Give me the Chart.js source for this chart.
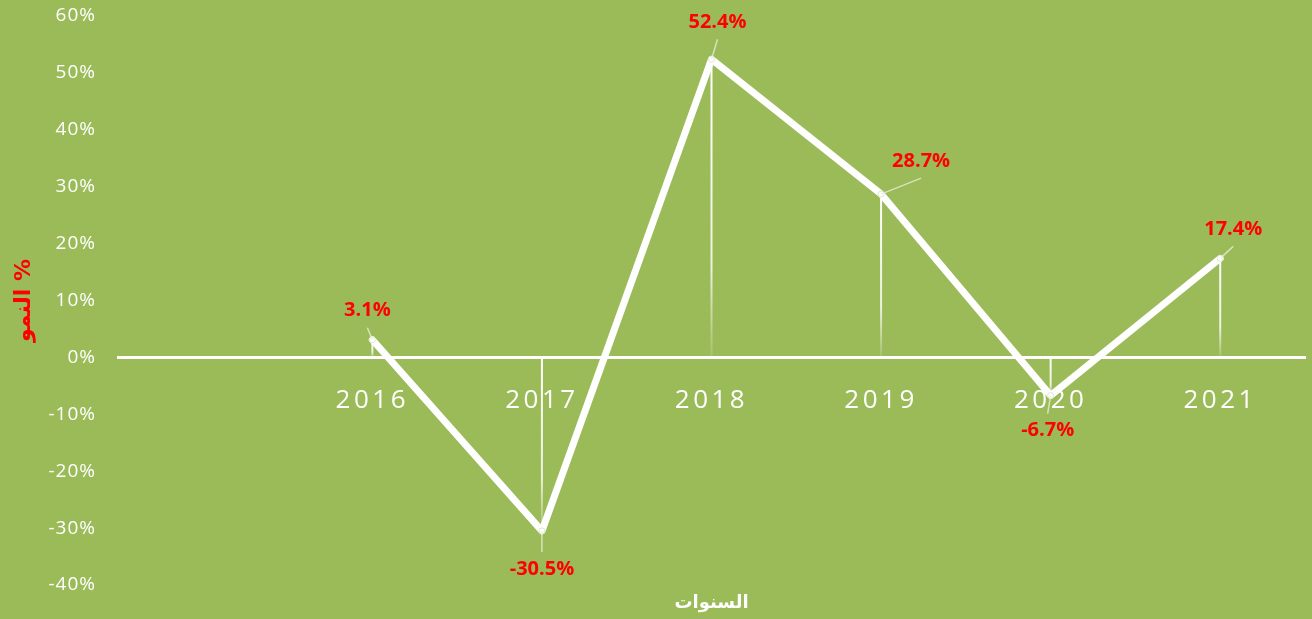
<!DOCTYPE html>
<html>
<head>
<meta charset="utf-8">
<script src="https://cdn.jsdelivr.net/npm/chart.js@4/dist/chart.umd.min.js"></script>
<style>
	html, body { margin: 0; padding: 0; background: #9bbb59; }
	#wrap { width: 1312px; height: 619px; }
</style>
</head>
<body>
<div id="wrap"><canvas id="growthChart" width="1312" height="619"></canvas></div>
<script>
// Data
const years = ['', '2016', '2017', '2018', '2019', '2020', '2021'];
const growth = [null, 3.1, -30.5, 52.4, 28.7, -6.7, 17.4];
const yTitle = '% النمو';
const xTitle = 'السنوات';

// Colors
const BG = '#9bbb59';
const RED = '#ff0000';
const WHITE = '#ffffff';

// Label placement relative to each point (px)
const labelOffsets = [null, [-5, -29], [0, 38], [6, -37], [40, -33], [-3, 35], [13, -29]];

function spacedText(scale, spacing) {
	if (scale._spaced) return;
	const orig = scale.drawLabels;
	scale.drawLabels = function (area) {
		const ctx = this.ctx;
		ctx.save();
		ctx.letterSpacing = spacing;
		orig.call(this, area);
		ctx.restore();
	};
	scale._spaced = true;
}

const background = {
	id: 'background',
	beforeDraw(chart) {
		const { ctx, width, height } = chart;
		ctx.save();
		ctx.fillStyle = BG;
		ctx.fillRect(0, 0, width, height);
		ctx.restore();
	},
	afterLayout(chart) {
		spacedText(chart.scales.x, '3.5px');
		spacedText(chart.scales.y, '1px');
	},
};

const dropLines = {
	id: 'dropLines',
	beforeDatasetsDraw(chart) {
		const { ctx, scales: { y } } = chart;
		const base = y.getPixelForValue(0);
		chart.getDatasetMeta(0).data.forEach((pt, i) => {
			if (growth[i] == null) return;
			const top = Math.min(pt.y, base);
			const bottom = Math.max(pt.y, base);
			const g = ctx.createLinearGradient(0, top, 0, bottom);
			g.addColorStop(0, 'rgba(255,255,255,1)');
			g.addColorStop(0.7, 'rgba(255,255,255,0.8)');
			g.addColorStop(1, 'rgba(255,255,255,0.1)');
			ctx.save();
			ctx.strokeStyle = g;
			ctx.lineWidth = 2;
			ctx.beginPath();
			ctx.moveTo(pt.x, top);
			ctx.lineTo(pt.x, bottom);
			ctx.stroke();
			ctx.restore();
		});
	},
};

const valueLabels = {
	id: 'valueLabels',
	afterDatasetsDraw(chart) {
		const { ctx } = chart;
		chart.getDatasetMeta(0).data.forEach((pt, i) => {
			if (growth[i] == null) return;
			const [dx, dy] = labelOffsets[i];
			const lx = pt.x + dx;
			const ly = pt.y + dy;
			// leader line
			const sy = ly + (dy < 0 ? 17 : -17);
			if (Math.hypot(pt.x - lx, pt.y - sy) > 6) {
				ctx.save();
				ctx.strokeStyle = 'rgba(235,240,220,0.75)';
				ctx.lineWidth = 1.5;
				ctx.beginPath();
				ctx.moveTo(lx, sy);
				ctx.lineTo(pt.x, pt.y);
				ctx.stroke();
				ctx.restore();
			}
			ctx.save();
			ctx.fillStyle = RED;
			ctx.font = 'bold 20px "Open Sans"';
			ctx.textAlign = 'center';
			ctx.textBaseline = 'middle';
			ctx.fillText(growth[i].toFixed(1) + '%', lx, ly);
			ctx.restore();
		});
	},
	afterDraw(chart) {
		const { ctx, chartArea } = chart;
		ctx.save();
		ctx.direction = 'rtl';
		ctx.textAlign = 'center';
		ctx.textBaseline = 'middle';
		ctx.fillStyle = WHITE;
		ctx.font = 'bold 18px "DejaVu Sans"';
		ctx.fillText(xTitle, (chartArea.left + chartArea.right) / 2, 603);
		ctx.translate(24, (chartArea.top + chartArea.bottom) / 2);
		ctx.rotate(-Math.PI / 2);
		ctx.fillStyle = RED;
		ctx.font = 'bold 22px "DejaVu Sans"';
		ctx.fillText(yTitle, 0, 0);
		ctx.restore();
	},
};

new Chart(document.getElementById('growthChart'), {
	type: 'line',
	data: {
		labels: years,
		datasets: [
			{
				data: growth,
				borderColor: WHITE,
				borderWidth: 7,
				borderJoinStyle: 'round',
				borderCapStyle: 'round',
				pointRadius: 3,
				pointBackgroundColor: WHITE,
				pointBorderColor: '#dfe8cc',
				pointBorderWidth: 1,
				tension: 0,
				spanGaps: false,
			},
		],
	},
	options: {
		responsive: false,
		animation: false,
		layout: { padding: { top: 16, bottom: 34, right: 7, left: 0 } },
		plugins: { legend: { display: false }, tooltip: { enabled: false } },
		scales: {
			x: {
				position: { y: 0 },
				offset: true,
				grid: { display: false, drawTicks: false },
				border: { display: true, color: WHITE, width: 3 },
				ticks: {
					color: WHITE,
					font: { family: 'Open Sans', size: 26 },
					padding: 28,
					maxRotation: 0,
					autoSkip: false,
				},
			},
			y: {
				min: -40,
				max: 60,
				grid: { display: false, drawTicks: false },
				border: { display: false },
				ticks: {
					stepSize: 10,
					color: WHITE,
					padding: 22,
					font: { family: 'Open Sans', size: 19 },
					callback: (v) => v + '%',
				},
				afterFit: (s) => {
					s.width = 118;
					s.paddingTop = 0;
					s.paddingBottom = 0;
				},
			},
		},
	},
	plugins: [background, dropLines, valueLabels],
});
</script>
</body>
</html>
